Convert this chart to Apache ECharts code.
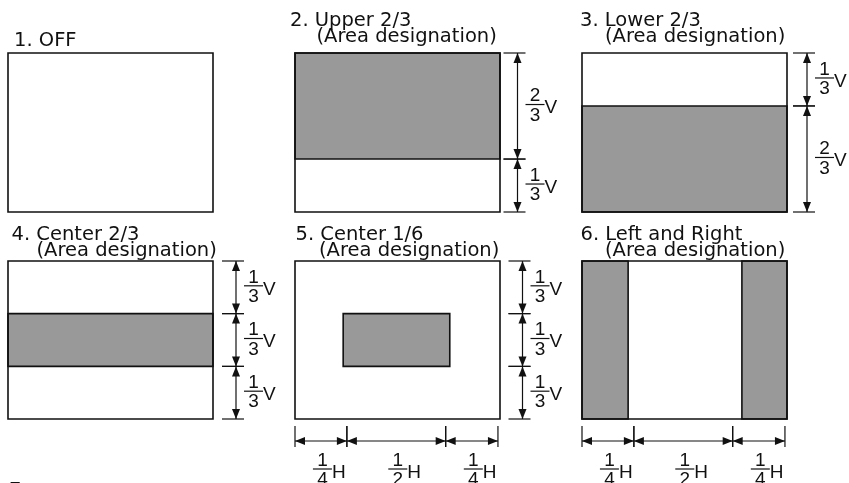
<!DOCTYPE html>
<html><head><meta charset="utf-8">
<script src="https://cdn.jsdelivr.net/npm/echarts@6/dist/echarts.min.js"></script>
<style>html,body{margin:0;padding:0;background:#fff}#c{width:849px;height:483px}</style>
</head><body><div id="c"></div>
<script>
// ---------------- data ----------------
const panelTitles = ["1. OFF", "2. Upper 2/3", "3. Lower 2/3", "4. Center 2/3", "5. Center 1/6", "6. Left and Right"];
const panelNotes = ["", "(Area designation)", "(Area designation)", "(Area designation)", "(Area designation)", "(Area designation)"];
const tailTitle = "7.";
// shaded areas per panel: [x0, x1, y0, y1] as fractions of H (left->right) and V (top->bottom)
const shadedAreas = [
  [],
  [[0, 1, 0, 0.667]],
  [[0, 1, 0.333, 1]],
  [[0, 1, 0.333, 0.667]],
  [[0.235, 0.755, 0.333, 0.667]],
  [[0, 0.225, 0, 1], [0.78, 1, 0, 1]]
];
const vDimStops = [[], [0, 0.667, 1], [0, 0.333, 1], [0, 0.333, 0.667, 1], [0, 0.333, 0.667, 1], []];
const vDimLabels = [[], ["2/3", "1/3"], ["1/3", "2/3"], ["1/3", "1/3", "1/3"], ["1/3", "1/3", "1/3"], []];
const hDimStops = [[], [], [], [], [0, 0.253, 0.735, 0.99], [0, 0.253, 0.735, 0.99]];
const hDimLabels = [[], [], [], [], ["1/4", "1/2", "1/4"], ["1/4", "1/2", "1/4"]];
const vUnit = "V", hUnit = "H";

// ---------------- layout / style ----------------
const boxes = [
  {left: 8, top: 53, w: 205, h: 159},
  {left: 295, top: 53, w: 205, h: 159},
  {left: 582, top: 53, w: 205, h: 159},
  {left: 8, top: 261, w: 205, h: 158},
  {left: 295, top: 261, w: 205, h: 158},
  {left: 582, top: 261, w: 205, h: 158}
];
const titlePos = [
  {x: 14, y: 40.5, nx: 0, ny: 0},
  {x: 290, y: 20.5, nx: 316.5, ny: 37},
  {x: 580, y: 20.5, nx: 605, ny: 37},
  {x: 11.5, y: 234.5, nx: 36.5, ny: 250.5},
  {x: 295.5, y: 234.5, nx: 319, ny: 250.5},
  {x: 580.5, y: 234.5, nx: 605, ny: 250.5}
];
const vDimOffset = [0, 3.5, 6, 9, 8.5, 0];
const TITLE_FONT = '19.5px "DejaVu Sans"';
const FRAC_FONT = '19px "Liberation Sans"';
const INK = '#111111';
const SHADE = '#999999';

function ln(x1, y1, x2, y2, w) {
  return {type: 'line', shape: {x1: x1, y1: y1, x2: x2, y2: y2}, style: {stroke: INK, lineWidth: w || 1.2}};
}
function tri(pts) {
  return {type: 'polygon', shape: {points: pts}, style: {fill: INK}};
}
function txt(s, x, y, align) {
  return {type: 'text', style: {text: s, x: x, y: y, align: align, verticalAlign: 'middle', font: FRAC_FONT, fill: INK}};
}
function fraction(barX0, barY, label, unit) {
  const parts = label.split('/');
  const bw = 19, cx = barX0 + bw / 2;
  return [
    ln(barX0, barY, barX0 + bw, barY, 1.2),
    txt(parts[0], cx, barY - 8.5, 'center'),
    txt(parts[1], cx, barY + 11, 'center'),
    txt(unit, barX0 + bw, barY + 3.5, 'left')
  ];
}

function segs(stops) {
  const out = [];
  for (let i = 0; i + 1 < stops.length; i++) out.push([stops[i], stops[i + 1]]);
  return out;
}

const grid = [], xAxis = [], yAxis = [], series = [], graphic = [];
boxes.forEach(function (b, pi) {
  grid.push({left: b.left, top: b.top, width: b.w, height: b.h});
  xAxis.push({type: 'value', gridIndex: pi, min: 0, max: 1, show: false});
  yAxis.push({type: 'value', gridIndex: pi, min: 0, max: 1, inverse: true, show: false});

  // shaded areas
  series.push({
    type: 'custom', xAxisIndex: pi, yAxisIndex: pi, clip: false, silent: true,
    data: shadedAreas[pi],
    renderItem: function (params, api) {
      const a = api.coord([api.value(0), api.value(2)]);
      const c = api.coord([api.value(1), api.value(3)]);
      return {type: 'rect', shape: {x: a[0], y: a[1], width: c[0] - a[0], height: c[1] - a[1]},
        style: {fill: SHADE, stroke: INK, lineWidth: 1.6}};
    }
  });
  // outline
  series.push({
    type: 'custom', xAxisIndex: pi, yAxisIndex: pi, clip: false, silent: true,
    data: [[0, 1, 0, 1]],
    renderItem: function (params, api) {
      const a = api.coord([api.value(0), api.value(2)]);
      const c = api.coord([api.value(1), api.value(3)]);
      return {type: 'rect', shape: {x: a[0], y: a[1], width: c[0] - a[0], height: c[1] - a[1]},
        style: {fill: 'none', stroke: INK, lineWidth: 1.6}};
    }
  });
  // vertical dimensions
  if (vDimStops[pi].length) {
    series.push({
      type: 'custom', xAxisIndex: pi, yAxisIndex: pi, clip: false, silent: true,
      data: segs(vDimStops[pi]),
      renderItem: function (params, api) {
        const p0 = api.coord([1, api.value(0)]), p1 = api.coord([1, api.value(1)]);
        const t0 = p0[0] + vDimOffset[pi], t1 = t0 + 22, ax = t0 + 14;
        const y0 = p0[1], y1 = p1[1];
        const ch = [
          ln(t0, y0, t1, y0), ln(t0, y1, t1, y1), ln(ax, y0, ax, y1),
          tri([[ax, y0], [ax - 4, y0 + 10], [ax + 4, y0 + 10]]),
          tri([[ax, y1], [ax - 4, y1 - 10], [ax + 4, y1 - 10]])
        ].concat(fraction(ax + 8, (y0 + y1) / 2 - 1.5, vDimLabels[pi][params.dataIndex], vUnit));
        return {type: 'group', children: ch};
      }
    });
  }
  // horizontal dimensions
  if (hDimStops[pi].length) {
    series.push({
      type: 'custom', xAxisIndex: pi, yAxisIndex: pi, clip: false, silent: true,
      data: segs(hDimStops[pi]),
      renderItem: function (params, api) {
        const p0 = api.coord([api.value(0), 1]), p1 = api.coord([api.value(1), 1]);
        const yb = p0[1];
        const t0 = yb + 7, t1 = yb + 28, ay = yb + 22;
        const x0 = p0[0], x1 = p1[0];
        const cx = (x0 + x1) / 2;
        const ch = [
          ln(x0, t0, x0, t1), ln(x1, t0, x1, t1), ln(x0, ay, x1, ay),
          tri([[x0, ay], [x0 + 10, ay - 4], [x0 + 10, ay + 4]]),
          tri([[x1, ay], [x1 - 10, ay - 4], [x1 - 10, ay + 4]])
        ].concat(fraction(cx - 8, yb + 50, hDimLabels[pi][params.dataIndex], hUnit));
        return {type: 'group', children: ch};
      }
    });
  }

  graphic.push({type: 'text', x: titlePos[pi].x, y: titlePos[pi].y, silent: true,
    style: {text: panelTitles[pi], font: TITLE_FONT, fill: INK, verticalAlign: 'middle'}});
  if (panelNotes[pi]) {
    graphic.push({type: 'text', x: titlePos[pi].nx, y: titlePos[pi].ny, silent: true,
      style: {text: panelNotes[pi], font: TITLE_FONT, fill: INK, verticalAlign: 'middle'}});
  }
});
graphic.push({type: 'text', x: 9, y: 491, silent: true,
  style: {text: tailTitle, font: TITLE_FONT, fill: INK, verticalAlign: 'middle'}});

const chart = echarts.init(document.getElementById('c'), null, {renderer: 'canvas'});
chart.setOption({
  animation: false,
  backgroundColor: '#ffffff',
  grid: grid, xAxis: xAxis, yAxis: yAxis, series: series, graphic: graphic
});
</script>
</body></html>
